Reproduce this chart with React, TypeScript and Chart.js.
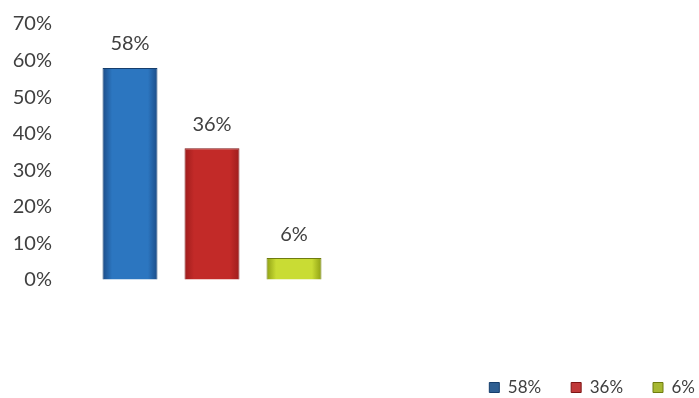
import React, { useEffect, useRef } from 'react';
import { Chart, registerables } from 'chart.js';

Chart.register(...registerables);

const categories = ['58%', '36%', '6%'];
const values = [58, 36, 6];
const yMax = 70;
const yStep = 10;

const edgeColors = ['#1a4a85', '#9c1c1c', '#8c9d12'];
const centerColors = ['#2c76c0', '#c22a28', '#c9dc34'];
const borderColors = ['#163e6c', '#7e1515', '#6f7c0e'];
const legendColors = ['#2f5f92', '#c0393a', '#a7b832'];

const FONT = 'Lato, "Open Sans", sans-serif';
const TEXT = '#404040';

const valueLabels = {
  id: 'valueLabels',
  afterDatasetsDraw(chart: any) {
    const ctx = chart.ctx;
    const meta = chart.getDatasetMeta(0);
    ctx.save();
    ctx.font = `20px ${FONT}`;
    ctx.fillStyle = TEXT;
    ctx.textAlign = 'center';
    ctx.textBaseline = 'middle';
    meta.data.forEach((el: any, i: number) => {
      ctx.fillText(values[i] + '%', el.x, el.y - 24);
    });
    ctx.restore();
  },
};

export default function App() {
  const ref = useRef<HTMLCanvasElement | null>(null);

  useEffect(() => {
    if (!ref.current) return;
    const chart = new Chart(ref.current, {
      type: 'bar',
      data: {
        labels: categories,
        datasets: [
          {
            data: values,
            backgroundColor: (c: any) => {
              const i = c.dataIndex;
              const chartObj = c.chart;
              const xs = chartObj.scales?.x;
              if (!xs || i === undefined) return centerColors[i ?? 0];
              const x = xs.getPixelForValue(i);
              const half = 28;
              const g = chartObj.ctx.createLinearGradient(x - half, 0, x + half, 0);
              g.addColorStop(0, edgeColors[i]);
              g.addColorStop(0.18, centerColors[i]);
              g.addColorStop(0.5, centerColors[i]);
              g.addColorStop(0.82, centerColors[i]);
              g.addColorStop(1, edgeColors[i]);
              return g;
            },
            borderColor: borderColors,
            borderWidth: 1,
            barPercentage: 0.67,
            categoryPercentage: 1,
          },
        ],
      },
      options: {
        animation: false,
        responsive: true,
        maintainAspectRatio: false,
        layout: { padding: { top: 24, left: 0, right: -26, bottom: -8 } },
        plugins: {
          tooltip: { enabled: false },
          legend: {
            position: 'bottom',
            align: 'end',
            labels: {
              boxWidth: 10,
              boxHeight: 10,
              padding: 30,
              color: TEXT,
              font: { family: FONT, size: 17 },
              generateLabels: () =>
                categories.map((c, i) => ({
                  text: c,
                  fillStyle: legendColors[i],
                  strokeStyle: borderColors[i],
                  lineWidth: 1,
                  hidden: false,
                  index: i,
                  datasetIndex: 0,
                  fontColor: TEXT,
                })),
            },
            onClick: () => {},
          },
        },
        scales: {
          x: {
            display: true,
            grid: { display: false },
            border: { display: false },
            ticks: { display: false },
            afterFit: (s: any) => {
              s.height = 69;
            },
          },
          y: {
            min: 0,
            max: yMax,
            grid: {
              display: true,
              drawOnChartArea: false,
              drawTicks: true,
              tickLength: 37,
              tickColor: 'rgba(0,0,0,0)',
            },
            border: { display: false },
            ticks: {
              stepSize: yStep,
              padding: 0,
              color: TEXT,
              font: { family: FONT, size: 20 },
              callback: (v: any) => v + '%',
            },
            afterFit: (s: any) => {
              s.width = 89;
            },
          },
          yR: {
            type: 'linear',
            position: 'right',
            display: true,
            grid: { display: false },
            border: { display: false },
            ticks: { display: false },
            afterFit: (s: any) => {
              s.width = 390;
            },
          },
        },
      },
      plugins: [valueLabels],
    });
    return () => chart.destroy();
  }, []);

  return (
    <div style={{ position: 'fixed', left: 0, top: 0, width: 699, height: 398, background: '#fff' }}>
      <canvas ref={ref} />
    </div>
  );
}
